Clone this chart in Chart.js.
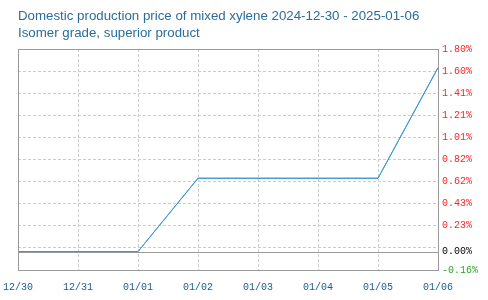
<!DOCTYPE html>
<html>
<head>
<meta charset="utf-8">
<script src="https://cdn.jsdelivr.net/npm/chart.js@4.4.0/dist/chart.umd.min.js"></script>
<style>
  html, body { margin: 0; padding: 0; background: #fff; }
  #wrap { width: 488px; height: 300px; }
</style>
</head>
<body>
<div id="wrap"><canvas id="priceChart" width="488" height="300"></canvas></div>
<script>
const titleLines = ["Domestic production price of mixed xylene 2024-12-30 - 2025-01-06", "Isomer grade, superior product"];
const dates = ["12/30", "12/31", "01/01", "01/02", "01/03", "01/04", "01/05", "01/06"];
const changePct = [0, 0, 0, 0.65, 0.65, 0.65, 0.65, 1.63];

const yMin = -0.1633;
const yMax = 1.7957;
const yTickValues = [-0.1633, 0, 0.0326, 0.2285, 0.4244, 0.6203, 0.8162, 1.0121, 1.208, 1.4039, 1.5998, 1.7957];
const yTickLabels = ["-0.16%", "0.00%", "", "0.23%", "0.43%", "0.62%", "0.82%", "1.01%", "1.21%", "1.41%", "1.60%", "1.80%"];

const tickFont = { family: "'Liberation Mono', monospace", size: 10 };

// frame + solid zero line
const framePlugin = {
  id: "frame",
  afterDatasetsDraw(chart) {
    const { ctx, chartArea: a, scales } = chart;
    ctx.save();
    ctx.strokeStyle = "#9a9a9a";
    ctx.lineWidth = 1;
    const zy = Math.round(scales.y.getPixelForValue(0)) + 0.5;
    ctx.beginPath();
    ctx.moveTo(a.left, zy);
    ctx.lineTo(a.right, zy);
    ctx.stroke();
    ctx.restore();
    // redraw line over zero line
    chart.getDatasetMeta(0).controller.draw();
    ctx.save();
    ctx.strokeStyle = "#9a9a9a";
    ctx.strokeRect(Math.round(a.left) + 0.5, Math.round(a.top) + 0.5,
      Math.round(a.right - a.left), Math.round(a.bottom - a.top));
    ctx.restore();
  }
};

new Chart(document.getElementById("priceChart"), {
  type: "line",
  data: {
    labels: dates,
    datasets: [{
      data: changePct,
      borderColor: "#3d96d6",
      borderWidth: 1,
      pointRadius: 0,
      tension: 0,
      fill: false
    }]
  },
  options: {
    responsive: false,
    animation: false,
    layout: { padding: { left: 18, right: 0, top: 0, bottom: 0 } },
    plugins: {
      legend: { display: false },
      tooltip: { enabled: false },
      title: {
        display: true,
        text: titleLines,
        align: "start",
        color: "#2a6d9c",
        font: { family: "'Liberation Sans', Arial, sans-serif", size: 13.3, weight: "normal", lineHeight: 17 / 13.3 },
        padding: { top: 8, bottom: 7 }
      }
    },
    scales: {
      x: {
        type: "category",
        offset: false,
        grid: { color: "#cccccc", drawTicks: false },
        border: { display: false, dash: [3, 2] },
        ticks: {
          color: "#1a5a8c",
          font: tickFont,
          maxRotation: 0,
          autoSkip: false,
          padding: 11
        },
        afterFit(scale) {
          scale.height = 30;
          scale.paddingLeft = 0;
          scale.paddingRight = 0;
        }
      },
      y: {
        position: "right",
        min: yMin,
        max: yMax,
        grid: {
          drawTicks: false,
          color: ctx => (ctx.tick && ctx.tick.value === 0) ? "rgba(0,0,0,0)" : "#cccccc"
        },
        border: { display: false, dash: [3, 2] },
        afterBuildTicks(scale) {
          scale.ticks = yTickValues.map(v => ({ value: v }));
        },
        ticks: {
          autoSkip: false,
          font: tickFont,
          padding: 4,
          callback: (value, index) => yTickLabels[index],
          color: ctx => {
            const v = ctx.tick.value;
            if (v === 0) return "#000000";
            return v < 0 ? "#2aa52a" : "#ff2222";
          }
        },
        afterFit(scale) { scale.width = 50; }
      }
    }
  },
  plugins: [framePlugin]
});
</script>
</body>
</html>
